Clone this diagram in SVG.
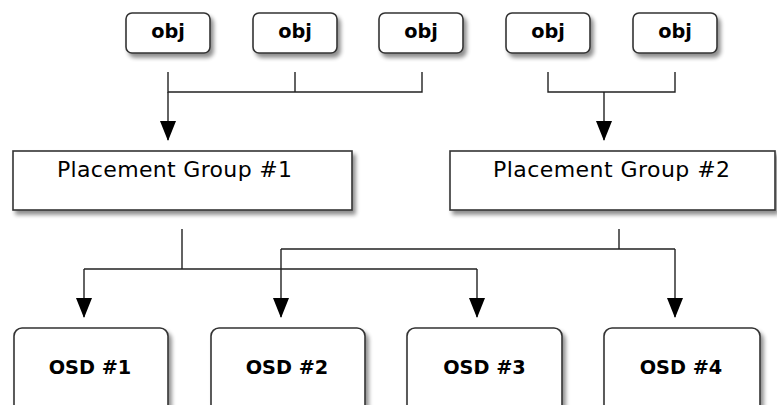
<svg xmlns="http://www.w3.org/2000/svg" width="777" height="405" viewBox="0 0 777 405">
  <defs>
    <filter id="shadow" x="-10%" y="-10%" width="130%" height="140%">
      <feGaussianBlur in="SourceAlpha" stdDeviation="2"/>
      <feOffset dx="3" dy="4" result="b"/>
      <feComponentTransfer><feFuncA type="linear" slope="0.45"/></feComponentTransfer>
      <feMerge><feMergeNode/><feMergeNode in="SourceGraphic"/></feMerge>
    </filter>
    <!-- filled arrowhead, drawn along +x so orient="auto" points it along the line -->
    <marker id="arrow" markerWidth="20" markerHeight="16" refX="19" refY="8" orient="auto" markerUnits="userSpaceOnUse" viewBox="0 0 20 16">
      <polygon points="0,0 20,8 0,16" fill="#000"/>
    </marker>
  </defs>
  <style>
    .box { fill: #fff; stroke: #333; stroke-width: 1.6; filter: url(#shadow); }
    .lbl { font-family: "DejaVu Sans", "Liberation Sans", sans-serif; font-size: 19.3px; fill: #000; }
    .bold { font-weight: bold; text-anchor: middle; }
    .pg { font-size: 22px; }
    .wire { fill: none; stroke: #222; stroke-width: 1.4; }
  </style>
  <rect width="777" height="405" fill="#fff"/>

  <!-- object nodes -->
  <g id="obj1"><rect class="box" x="126" y="13" width="84" height="40" rx="6"/><text class="lbl bold" x="168" y="38">obj</text></g>
  <g id="obj2"><rect class="box" x="253" y="13" width="84" height="40" rx="6"/><text class="lbl bold" x="295" y="38">obj</text></g>
  <g id="obj3"><rect class="box" x="379" y="13" width="84" height="40" rx="6"/><text class="lbl bold" x="421" y="38">obj</text></g>
  <g id="obj4"><rect class="box" x="506" y="13" width="84" height="40" rx="6"/><text class="lbl bold" x="548" y="38">obj</text></g>
  <g id="obj5"><rect class="box" x="633" y="13" width="84" height="40" rx="6"/><text class="lbl bold" x="675" y="38">obj</text></g>

  <!-- placement groups -->
  <g id="pg1"><rect class="box" x="13" y="151" width="339" height="59"/><text class="lbl pg" x="57" y="177" textLength="235" lengthAdjust="spacing">Placement Group #1</text></g>
  <g id="pg2"><rect class="box" x="450" y="151" width="325" height="59"/><text class="lbl pg" x="493" y="177" textLength="237" lengthAdjust="spacing">Placement Group #2</text></g>

  <!-- OSDs -->
  <g id="osd1"><rect class="box" x="14" y="328" width="154" height="90" rx="8"/><text class="lbl bold" x="90" y="374">OSD #1</text></g>
  <g id="osd2"><rect class="box" x="211" y="328" width="154" height="90" rx="8"/><text class="lbl bold" x="287" y="374">OSD #2</text></g>
  <g id="osd3"><rect class="box" x="407" y="328" width="155" height="90" rx="8"/><text class="lbl bold" x="484.5" y="374">OSD #3</text></g>
  <g id="osd4"><rect class="box" x="604" y="328" width="156" height="90" rx="8"/><text class="lbl bold" x="681" y="374">OSD #4</text></g>

  <!-- connectors -->
  <g id="connectors">
    <path class="wire" d="M168,72 V92 H422 V72 M295,72 V92"/>
    <path class="wire" d="M168,92 V140" marker-end="url(#arrow)"/>
    <path class="wire" d="M548,72 V92 H675 V72"/>
    <path class="wire" d="M604,92 V140" marker-end="url(#arrow)"/>
    <path class="wire" d="M182,229 V269 M84,269 H477"/>
    <path class="wire" d="M84,269 V317" marker-end="url(#arrow)"/>
    <path class="wire" d="M477,269 V317" marker-end="url(#arrow)"/>
    <path class="wire" d="M619,229 V249 M281,249 H675"/>
    <path class="wire" d="M281,249 V317" marker-end="url(#arrow)"/>
    <path class="wire" d="M675,249 V317" marker-end="url(#arrow)"/>
  </g>
</svg>
